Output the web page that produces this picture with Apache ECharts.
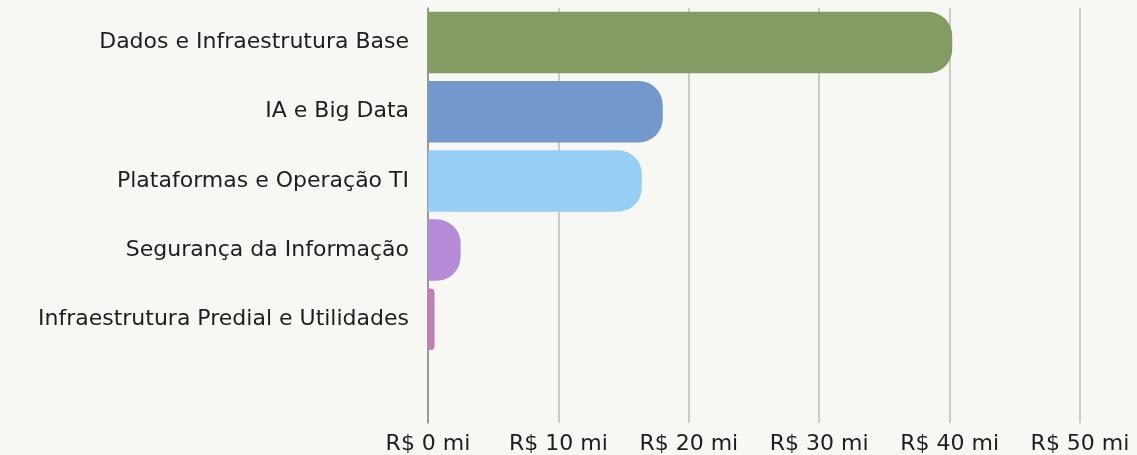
<!DOCTYPE html>
<html><head><meta charset="utf-8">
<script src="https://cdn.jsdelivr.net/npm/echarts@6/dist/echarts.min.js"></script>
<style>html,body{margin:0;padding:0;background:#f7f7f3}#c{width:1137px;height:455px}</style>
</head><body><div id="c"></div>
<script>
const categories = ['Dados e Infraestrutura Base','IA e Big Data','Plataformas e Operação TI','Segurança da Informação','Infraestrutura Predial e Utilidades',''];
const values = [40.2, 18.0, 16.4, 2.5, 0.5, null];
const colors = ['#849b63','#7398cb','#96cef5','#b58bd8','#c07fb5','#ffffff'];
const tickValues = [0,10,20,30,40,50];

const chart = echarts.init(document.getElementById('c'));
chart.setOption({
  backgroundColor: '#f7f7f3',
  animation: false,
  grid: {left: 428, right: 57, top: 8, bottom: 30},
  xAxis: {
    type: 'value', min: 0, max: 50, interval: 10,
    axisLine: {show: false}, axisTick: {show: false},
    splitLine: {lineStyle: {color: '#bdbdb8', width: 1.5}},
    axisLabel: {color: '#1e1e1e', fontSize: 22, fontFamily: 'DejaVu Sans', margin: 10,
      formatter: v => 'R$ ' + v + ' mi'}
  },
  yAxis: {
    type: 'category', data: categories, inverse: true,
    axisLine: {show: true, lineStyle: {color: '#888', width: 1.5}},
    axisTick: {show: false},
    axisLabel: {color: '#1e1e1e', fontSize: 22, fontFamily: 'DejaVu Sans', margin: 19}
  },
  series: [{
    type: 'bar', barCategoryGap: '11%',
    data: values.map((v, i) => ({value: v, itemStyle: {color: colors[i], borderRadius: v !== null && v < 1 ? [0, 4, 4, 0] : [0, 24, 24, 0]}}))
  }]
});
</script></body></html>
